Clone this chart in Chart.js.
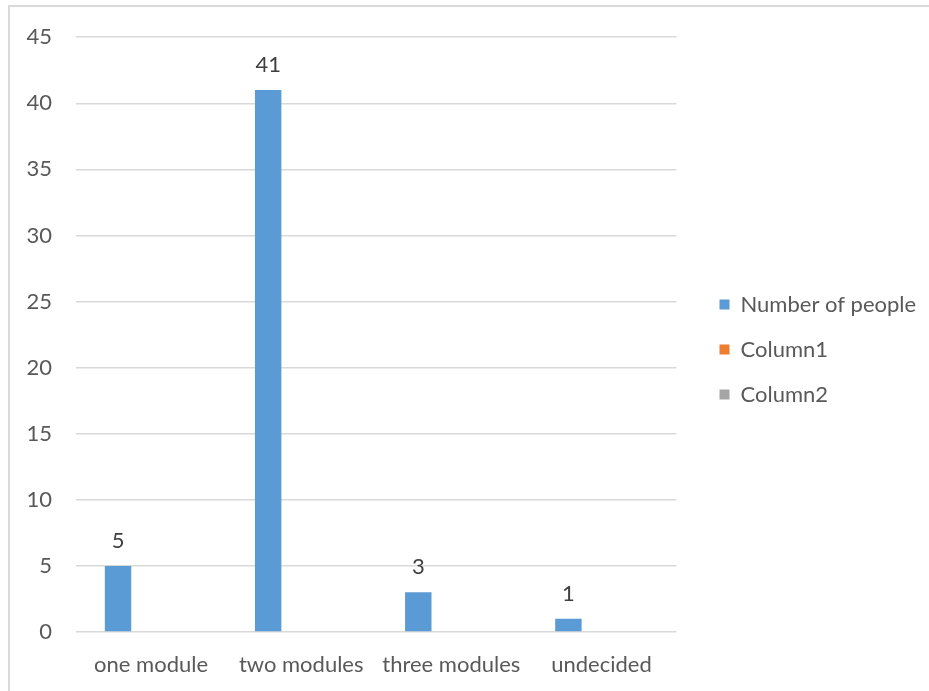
<!DOCTYPE html>
<html>
<head>
<meta charset="utf-8">
<script src="https://cdn.jsdelivr.net/npm/chart.js@4"></script>
<style>
  html, body { margin: 0; padding: 0; background: #fff; overflow: hidden; }
  canvas { display: block; }
</style>
</head>
<body>
<canvas id="chart" width="929" height="691"></canvas>
<script>
const categories = ["one module", "two modules", "three modules", "undecided"];
const numberOfPeople = [5, 41, 3, 1];
const column1 = [null, null, null, null];
const column2 = [null, null, null, null];
const yTicks = [0, 5, 10, 15, 20, 25, 30, 35, 40, 45];

const textColor = "#595959";
const fontFamily = "Lato, 'Liberation Sans', sans-serif";

// outer frame like the excel chart border (top and left edges only visible)
const framePlugin = {
    id: "frame",
    beforeDraw(chart) {
        const ctx = chart.ctx;
        ctx.save();
        ctx.strokeStyle = "#D9D9D9";
        ctx.lineWidth = 2;
        ctx.beginPath();
        ctx.moveTo(9, 691);
        ctx.lineTo(9, 6);
        ctx.lineTo(929, 6);
        ctx.stroke();
        ctx.restore();
    }
};

// value labels above the bars
const valueLabels = {
    id: "valueLabels",
    afterDatasetsDraw(chart) {
        const ctx = chart.ctx;
        ctx.save();
        ctx.font = "22px " + fontFamily;
        ctx.fillStyle = "#404040";
        ctx.textAlign = "center";
        ctx.textBaseline = "middle";
        chart.data.datasets.forEach((ds, i) => {
            const meta = chart.getDatasetMeta(i);
            meta.data.forEach((bar, j) => {
                const v = ds.data[j];
                if (v === null || v === undefined) return;
                ctx.fillText(v, bar.x, bar.y - 25);
            });
        });
        ctx.restore();
    }
};

// push the legend a bit away from the plot, like in the original
const legendShift = {
    id: "legendShift",
    afterLayout(chart) {
        const lg = chart.legend;
        lg.left += 20;
        lg.right += 20;
        lg.top -= 11;
        lg.bottom -= 11;
    }
};

new Chart(document.getElementById("chart"), {
    type: "bar",
    data: {
        labels: categories,
        datasets: [
            { label: "Number of people", data: numberOfPeople, backgroundColor: "#5B9BD5" },
            { label: "Column1", data: column1, backgroundColor: "#ED7D31" },
            { label: "Column2", data: column2, backgroundColor: "#A5A5A5" }
        ]
    },
    options: {
        responsive: false,
        animation: false,
        devicePixelRatio: 1,
        layout: { padding: { top: 30, right: 27, bottom: 0, left: 0 } },
        datasets: { bar: { categoryPercentage: 0.66, barPercentage: 0.8 } },
        plugins: {
            legend: {
                position: "right",
                align: "center",
                labels: {
                    boxWidth: 10,
                    boxHeight: 10,
                    padding: 23,
                    color: textColor,
                    font: { family: fontFamily, size: 22 }
                }
            },
            tooltip: { enabled: false }
        },
        scales: {
            x: {
                grid: { display: false, drawTicks: false },
                border: { display: false },
                ticks: { color: textColor, padding: 20, font: { family: fontFamily, size: 22 }, maxRotation: 0 },
                afterFit(s) { s.height = 59; }
            },
            y: {
                min: 0,
                max: 45,
                afterBuildTicks(s) { s.ticks = yTicks.map(v => ({ value: v })); },
                grid: { color: "#D9D9D9", lineWidth: 1.5, drawTicks: false },
                border: { display: false },
                ticks: { color: textColor, padding: 24, font: { family: fontFamily, size: 22 } },
                afterFit(s) { s.width = 76; }
            }
        }
    },
    plugins: [framePlugin, valueLabels, legendShift]
});
</script>
</body>
</html>
